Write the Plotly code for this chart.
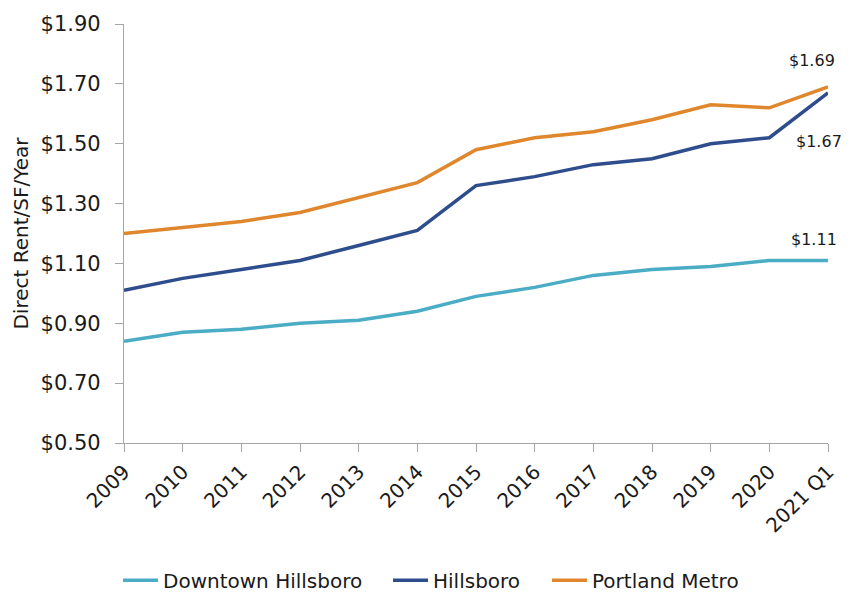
import plotly.graph_objects as go

# Category labels along the x axis
periods = ["2009", "2010", "2011", "2012", "2013", "2014", "2015",
           "2016", "2017", "2018", "2019", "2020", "2021 Q1"]

# Direct rent ($/SF/year) for each market
downtown_hillsboro = [0.84, 0.87, 0.88, 0.90, 0.91, 0.94, 0.99,
                      1.02, 1.06, 1.08, 1.09, 1.11, 1.11]
hillsboro = [1.01, 1.05, 1.08, 1.11, 1.16, 1.21, 1.36,
             1.39, 1.43, 1.45, 1.50, 1.52, 1.67]
portland_metro = [1.20, 1.22, 1.24, 1.27, 1.32, 1.37, 1.48,
                  1.52, 1.54, 1.58, 1.63, 1.62, 1.69]

y_ticks = [0.50, 0.70, 0.90, 1.10, 1.30, 1.50, 1.70, 1.90]

series = [
    ("Downtown Hillsboro", downtown_hillsboro, "#4bacc6"),
    ("Hillsboro", hillsboro, "#2e4d8c"),
    ("Portland Metro", portland_metro, "#e0872d"),
]

x_idx = list(range(len(periods)))
FONT = "DejaVu Sans, Verdana, sans-serif"
TEXT = "#1a1a1a"
AXIS = "#a6a6a6"

# Each series gets its own legend box so the entries can be spaced freely
legend_ids = ["legend", "legend2", "legend3"]
legend_left_px = [118, 388, 547]

fig = go.Figure()
for (name, vals, color), lid in zip(series, legend_ids):
    fig.add_trace(go.Scatter(
        x=x_idx, y=vals, name=name, mode="lines",
        line=dict(color=color, width=3.5),
        legend=lid, hoverinfo="skip",
    ))

# End-of-series value labels
end_labels = [
    (portland_metro[-1], -16, 26),
    (hillsboro[-1], -9, -49),
    (downtown_hillsboro[-1], -14, 21),
]
for val, xs, ys in end_labels:
    fig.add_annotation(
        x=x_idx[-1], y=val, text=f"${val:.2f}", showarrow=False,
        xshift=xs, yshift=ys,
        font=dict(family=FONT, size=16, color=TEXT),
    )

legend_style = dict(
    orientation="h", xref="container", yref="container",
    xanchor="left", y=0.02, yanchor="middle",
    font=dict(family=FONT, size=20, color=TEXT),
    itemwidth=35, bgcolor="rgba(0,0,0,0)",
)

fig.update_layout(
    width=851, height=592,
    margin=dict(l=123.5, r=21.5, t=19, b=148.7),
    paper_bgcolor="white", plot_bgcolor="white",
    font=dict(family=FONT, color=TEXT),
    showlegend=True,
    **{lid: dict(x=px / 851, **legend_style)
       for lid, px in zip(legend_ids, legend_left_px)},
)

fig.update_xaxes(
    range=[0, len(periods) - 1],
    tickmode="array", tickvals=x_idx, ticktext=periods,
    tickangle=-45,
    ticks="outside", ticklen=8, tickcolor=AXIS, tickwidth=1,
    showline=True, linecolor=AXIS, linewidth=1.3,
    showgrid=False, zeroline=False,
    tickfont=dict(family=FONT, size=20, color=TEXT),
)
fig.update_yaxes(
    range=[0.50, 1.90],
    tickmode="array", tickvals=y_ticks,
    ticktext=[f"${v:.2f}" for v in y_ticks],
    ticks="outside", ticklen=8, tickcolor=AXIS, tickwidth=1,
    ticklabelstandoff=10,
    showline=True, linecolor=AXIS, linewidth=1.3,
    showgrid=False, zeroline=False,
    tickfont=dict(family=FONT, size=21, color=TEXT),
    title=dict(text="Direct Rent/SF/Year", standoff=6,
               font=dict(family=FONT, size=20, color=TEXT)),
)

fig.write_html("out.html")
